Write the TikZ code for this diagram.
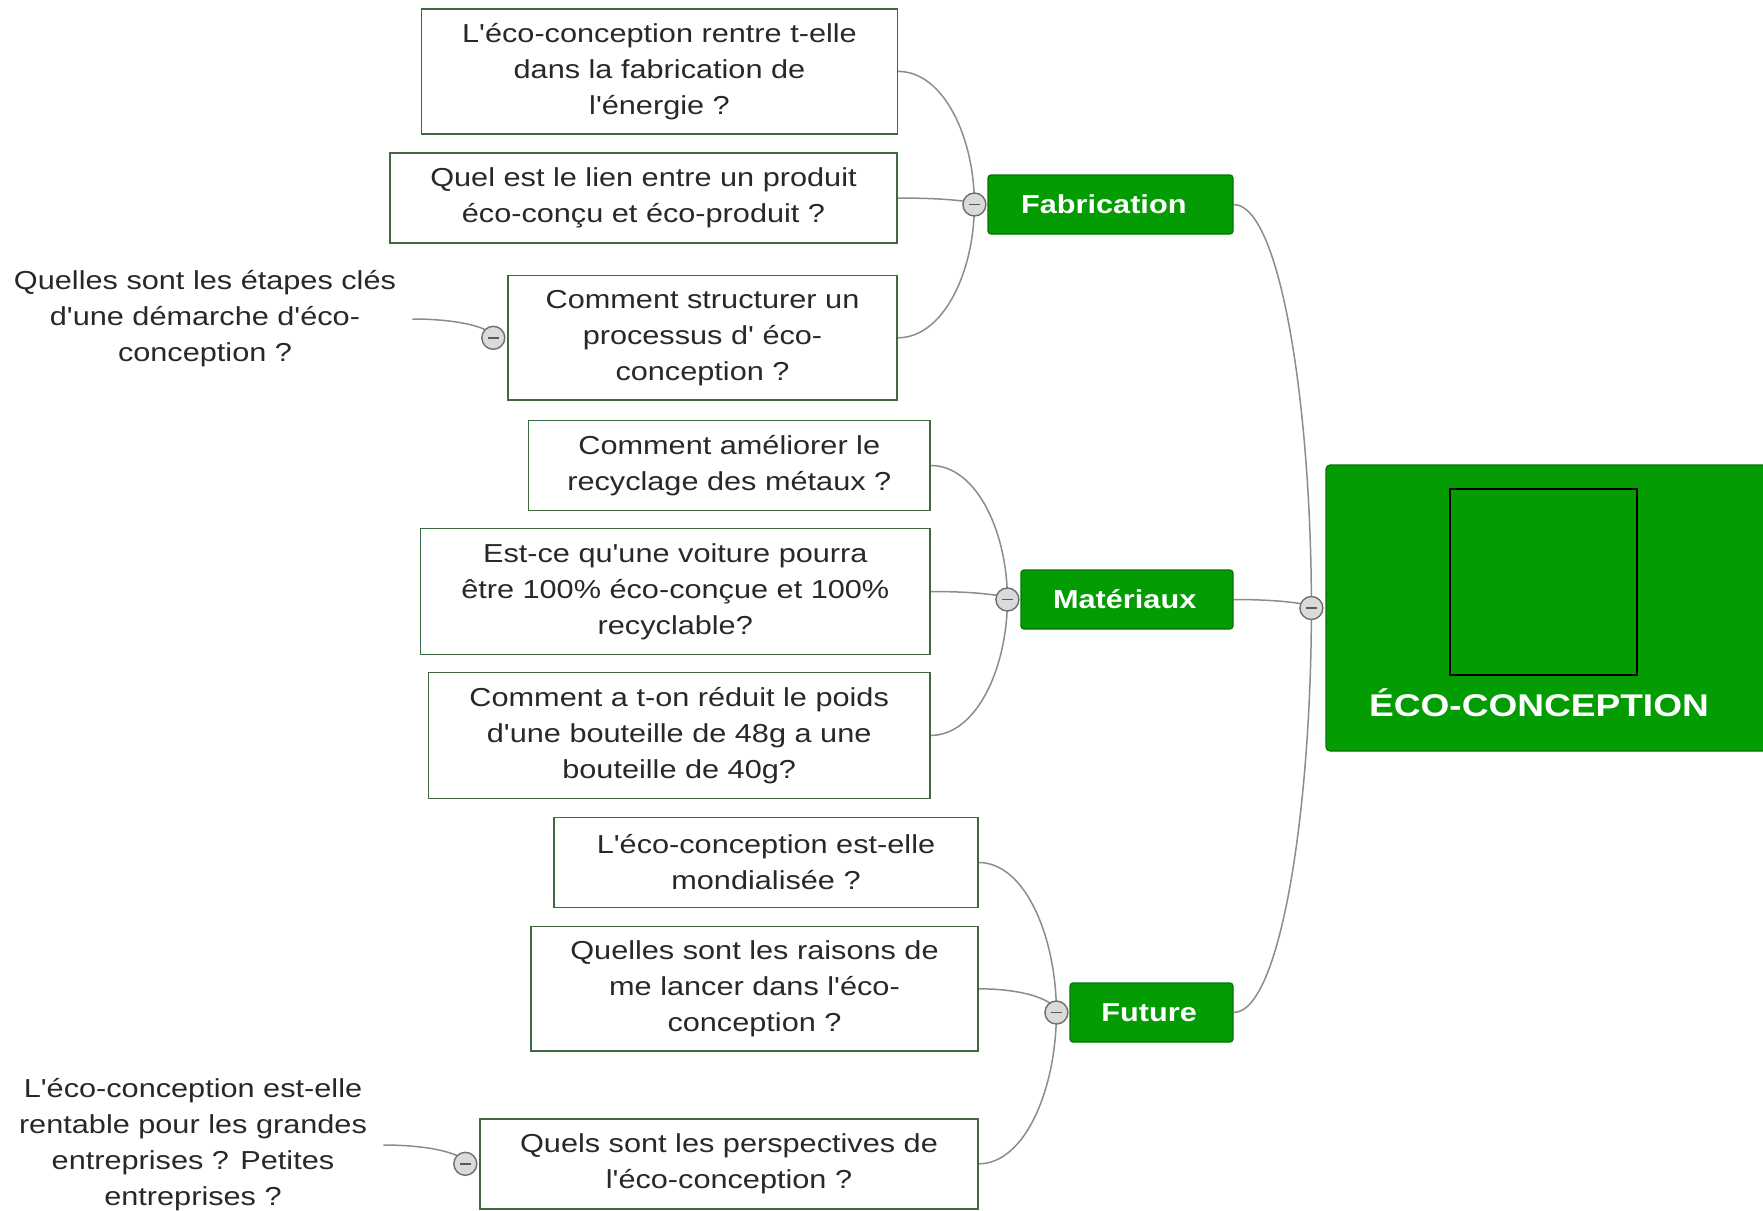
\documentclass[tikz,border=0pt]{standalone}
\usepackage{fontspec}
\setmainfont{Liberation Sans}[FakeStretch=1.18, Ligatures=TeXOff]
\usetikzlibrary{calc}
\definecolor{topicgreen}{RGB}{3,156,3}
\definecolor{topicborder}{RGB}{0,118,0}
\definecolor{leafborder}{RGB}{62,105,62}
\definecolor{linegray}{RGB}{140,140,140}
\definecolor{txtgray}{RGB}{40,40,40}
\definecolor{togglefill}{RGB}{218,218,218}
\definecolor{toggleline}{RGB}{110,110,110}
\pgfdeclarelayer{bg}
\pgfsetlayers{bg,main}
\newcommand\mmlink[2]{\draw[conn] (#1) .. controls ($(#1)!0.6!(#1 -| #2.center)$) and ($(#2.center)!0.5!(#2.center |- #1)$) .. (#2.center);}
\begin{document}
\begin{tikzpicture}[x=0.5pt,y=-0.5pt,
  leaf/.style={draw=leafborder, line width=0.7pt, fill=white, align=center, text=txtgray,
    font=\fontsize{13}{18}\selectfont, inner sep=0pt},
  freetxt/.style={align=center, text=txtgray, font=\fontsize{13}{18}\selectfont, inner xsep=8pt, inner ysep=2pt},
  topic/.style={draw=topicborder, line width=0.6pt, fill=topicgreen, rounded corners=1.5pt, text=white,
    font=\fontsize{13}{18}\selectfont\bfseries, minimum height=29.5pt, inner sep=0pt},
  rootbox/.style={draw=topicborder, line width=0.6pt, fill=topicgreen, rounded corners=2pt, inner sep=0pt},
  imgbox/.style={draw=black, line width=0.8pt, fill=topicgreen, inner sep=0pt},
  roottxt/.style={text=white, font=\fontsize{15.7}{18}\selectfont\bfseries, inner sep=0pt},
  toggle/.style={circle, draw=toggleline, line width=0.7pt, fill=togglefill, minimum size=11.5pt, inner sep=0pt,
    path picture={\draw[line width=0.8pt, black!65] ([xshift=-2.7pt]path picture bounding box.center) -- ([xshift=2.7pt]path picture bounding box.center);}},
  conn/.style={draw=linegray, line width=0.75pt}
]
\clip (0,0) rectangle (1763,1211);
\begin{pgfonlayer}{bg}
\fill[white] (0,0) rectangle (1763,1211);
\end{pgfonlayer}

% root
\node[rootbox, minimum width=227pt, minimum height=143pt] (root) at (1553,608) {};
\node[imgbox, minimum width=93.5pt, minimum height=93pt] (img) at (1543.5,582) {};
\node[roottxt] (roottext) at (1539,703) {ÉCO-CONCEPTION};

% topics
\node[topic, minimum width=122.5pt] (fab) at (1110.5,204.5) {Fabrication\kern6.7pt};
\node[topic, minimum width=106pt] (mat) at (1127,599.5) {Matériaux\kern2.3pt};
\node[topic, minimum width=81.5pt] (fut) at (1151.5,1012.5) {Future\kern2.3pt};

% leaves
\node[leaf, minimum width=237.9pt, minimum height=62.4pt] (f1) at (659.5,71.4) {L'éco-conception rentre t-elle\\dans la fabrication de\\l'énergie ?};
\node[leaf, minimum width=253.5pt, minimum height=45pt] (f2) at (643.5,198) {Quel est le lien entre un produit\\éco-conçu et éco-produit ?};
\node[leaf, minimum width=194.5pt, minimum height=62.3pt] (f3) at (702.5,337.8) {Comment structurer un\\processus d' éco-\\conception ?};
\node[leaf, minimum width=200.8pt, minimum height=45pt] (m1) at (729.3,465.5) {Comment améliorer le\\recyclage des métaux ?};
\node[leaf, minimum width=254.8pt, minimum height=63pt] (m2) at (675.3,591.5) {Est-ce qu'une voiture pourra\\être 100\% éco-conçue et 100\%\\recyclable?};
\node[leaf, minimum width=250.8pt, minimum height=63pt] (m3) at (679.2,735.4) {Comment a t-on réduit le poids\\d'une bouteille de 48g a une\\bouteille de 40g?};
\node[leaf, minimum width=212pt, minimum height=45pt] (u1) at (766,862.5) {L'éco-conception est-elle\\mondialisée ?};
\node[leaf, minimum width=223.5pt, minimum height=62.3pt] (u2) at (754.5,988.8) {Quelles sont les raisons de\\me lancer dans l'éco-\\conception ?};
\node[leaf, minimum width=249pt, minimum height=45pt] (u3) at (729,1163.8) {Quels sont les perspectives de\\l'éco-conception ?};

% free texts
\node[freetxt] (q1) at (205,319) {Quelles sont les étapes clés\\d'une démarche d'éco-\\conception ?};
\node[freetxt] (q2) at (193,1145) {L'éco-conception est-elle\\rentable pour les grandes\\entreprises ? Petites\\entreprises ?};

% toggles
\node[toggle] (tR) at ([xshift=-7pt]root.west) {};
\node[toggle] (tF) at ([xshift=-6.5pt]fab.west) {};
\node[toggle] (tM) at ([xshift=-6.5pt]mat.west) {};
\node[toggle] (tU) at ([xshift=-6.5pt]fut.west) {};
\node[toggle] (tF3) at ([xshift=-7pt]f3.west) {};
\node[toggle] (tU3) at ([xshift=-7pt]u3.west) {};

\begin{pgfonlayer}{bg}
\mmlink{fab.east}{tR}
\mmlink{mat.east}{tR}
\mmlink{fut.east}{tR}
\mmlink{f1.east}{tF}
\mmlink{f2.east}{tF}
\mmlink{f3.east}{tF}
\mmlink{m1.east}{tM}
\mmlink{m2.east}{tM}
\mmlink{m3.east}{tM}
\mmlink{u1.east}{tU}
\mmlink{u2.east}{tU}
\mmlink{u3.east}{tU}
\mmlink{q1.east}{tF3}
\mmlink{q2.east}{tU3}
\end{pgfonlayer}
\end{tikzpicture}
\end{document}
